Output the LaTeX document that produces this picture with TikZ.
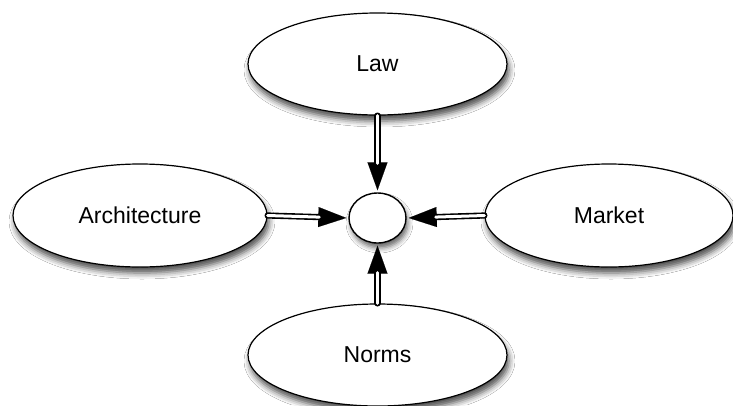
\documentclass[tikz,border=0pt]{standalone}
\usepackage{fontspec}
\setmainfont{Liberation Sans}
\usetikzlibrary{shapes.geometric,arrows.meta,shadows.blur}
\tikzset{
  oval/.style={ellipse, draw=black, line width=1.2pt, fill=white, inner sep=0pt,
    font=\fontsize{23}{27}\selectfont,
    blur shadow={shadow xshift=2pt, shadow yshift=-6pt, shadow blur radius=6pt, shadow opacity=70}},
  hub/.style={ellipse, draw=black, line width=1.4pt, fill=white, inner sep=0pt,
    minimum width=57pt, minimum height=50pt,
    blur shadow={shadow xshift=2pt, shadow yshift=-5pt, shadow blur radius=5pt, shadow opacity=60}},
  headline/.style={line width=0.1pt, shorten >=2pt, -{Triangle[length=28pt,width=20pt]}},
  shaft/.style={draw=black, double=white, double distance=3pt, line width=1.6pt, line cap=round, shorten >=29pt}
}
\begin{document}
\begin{tikzpicture}[x=1pt,y=-1pt]
\clip (0,0) rectangle (733,405);
\fill[white] (0,0) rectangle (733,405);
\node[oval, minimum width=259pt, minimum height=102pt] (law) at (377.5,64) {Law};
\node[oval, minimum width=254pt, minimum height=103pt] (arch) at (140,215.5) {Architecture};
\node[oval, minimum width=248pt, minimum height=103pt] (market) at (609,215.5) {Market};
\node[oval, minimum width=259pt, minimum height=102pt] (norms) at (377.5,355) {Norms};
\node[hub] (c) at (377.5,218) {};
\foreach \s/\a/\b in {law/south/north, arch/east/west, market/west/east, norms/north/south}{
  \draw[headline] (\s.\a) -- (c.\b);
  \draw[shaft] (\s.\a) -- (c.\b);
}
\end{tikzpicture}
\end{document}
